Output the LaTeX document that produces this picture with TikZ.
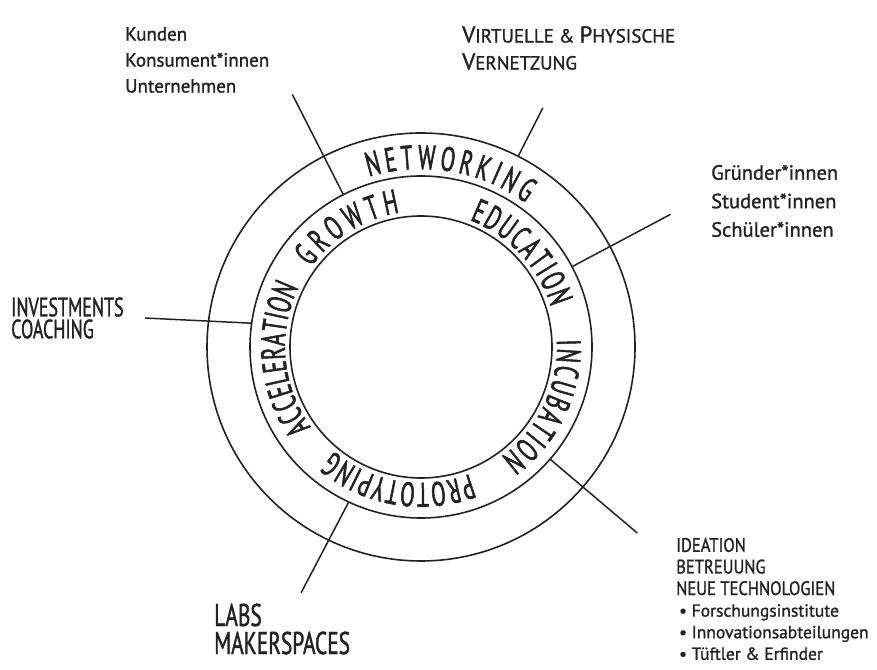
\documentclass[tikz,border=0pt]{standalone}
\usepackage{fontspec}
\setmainfont{PT Sans}
\newfontfamily\handfont[FakeBold=1.2]{PT Sans}
\newfontfamily\narrowfont[FakeStretch=0.68,FakeBold=1.2]{PT Sans}
\newfontfamily\slimfont[FakeStretch=0.85,FakeBold=1.2]{PT Sans}
\newfontfamily\ringface[FakeStretch=0.62,FakeBold=1.5]{PT Sans}
\usetikzlibrary{calc,decorations.text}
\definecolor{ink}{HTML}{222222}

\newcommand{\ringfont}{\ringface\fontsize{34}{34}\selectfont\color{ink}}
\newcommand{\capfirst}[1]{{\fontsize{23}{23}\selectfont #1}}
\newcommand{\capsline}[1]{{\slimfont\fontsize{19.5}{21.6}\selectfont #1}}

\begin{document}
\begin{tikzpicture}[x=1pt, y=1pt,
  ringline/.style={circle, draw=ink, line width=1.6pt, inner sep=0pt,
                   outer sep=0pt, minimum size=#1},
  spoke/.style={draw=ink, line width=1.5pt, line cap=round},
  ringtext/.style={decorate, decoration={text along path,
                   text align=fit to path, text={|\ringfont|#1}}},
  note/.style={anchor=west, align=left, inner sep=0pt, text=ink, font=#1}
]
  \useasboundingbox (0,0) rectangle (877,669);
  \fill[white] (0,0) rectangle (877,669);

  % Rings
  \coordinate (hub) at (421,322);
  \node[ringline=428pt] (outer) at (hub) {};
  \node[ringline=342pt] (middle) at (hub) {};
  \node[ringline=262pt] (inner) at (hub) {};

  % Ring labels
  \path[ringtext=NETWORKING] ($(hub)+(107:178)$) arc[start angle=107, end angle=54, radius=178];
  \path[ringtext=GROWTH] ($(hub)+(144:136)$) arc[start angle=144, end angle=99, radius=136];
  \path[ringtext=EDUCATION] ($(hub)+(69:136)$) arc[start angle=69, end angle=17, radius=136];
  \path[ringtext=INCUBATION] ($(hub)+(3:136)$) arc[start angle=3, end angle=-54, radius=136];
  \path[ringtext=PROTOTYPING] ($(hub)+(-69:136)$) arc[start angle=-69, end angle=-130, radius=136];
  \path[ringtext=ACCELERATION] ($(hub)+(216:136)$) arc[start angle=216, end angle=154, radius=136];

  % Spokes
  \coordinate (kunden-tip) at ($(hub)+(117:283)$);
  \coordinate (vernetzung-tip) at ($(hub)+(63:268)$);
  \coordinate (gruender-tip) at ($(hub)+(28:282)$);
  \coordinate (investments-tip) at ($(hub)+(174:277)$);
  \coordinate (ideation-tip) at ($(hub)+(-40.7:285)$);
  \coordinate (labs-tip) at ($(hub)+(-116:273)$);

  \draw[spoke] (middle.117) -- (kunden-tip);
  \draw[spoke] (outer.63) -- (vernetzung-tip);
  \draw[spoke] (middle.28) -- (gruender-tip);
  \draw[spoke] (middle.172) -- (investments-tip);
  \draw[spoke] (middle.-41) -- (ideation-tip);
  \draw[spoke] (middle.-115) -- (labs-tip);

  % Side notes
  \node[note={\handfont\fontsize{19}{26}\selectfont}] (kunden) at (125,609)
    {Kunden\\Konsument*innen\\Unternehmen};
  \node[note={\handfont\fontsize{19}{27}\selectfont}] (vernetzung) at (462,621)
    {\capfirst{V}IRTUELLE \& \capfirst{P}HYSISCHE\\\capfirst{V}ERNETZUNG};
  \node[note={\handfont\fontsize{20.5}{28.5}\selectfont}] (gruender) at (711,468)
    {Gründer*innen\\Student*innen\\Schüler*innen};
  \node[note={\narrowfont\fontsize{26.5}{22}\selectfont}] (investments) at (11,351)
    {INVESTMENTS\\COACHING};
  \node[note={\handfont\fontsize{17.5}{21.6}\selectfont}] (ideation) at (676,70)
    {\capsline{IDEATION}\\\capsline{BETREUUNG}\\\capsline{NEUE TECHNOLOGIEN}\\
     \,• Forschungsinstitute\\\,• Innovationsabteilungen\\\,• Tüftler \& Erfinder};
  \node[note={\narrowfont\fontsize{31.5}{28}\selectfont}] (labs) at (214,40)
    {LABS\\MAKERSPACES};
\end{tikzpicture}
\end{document}
